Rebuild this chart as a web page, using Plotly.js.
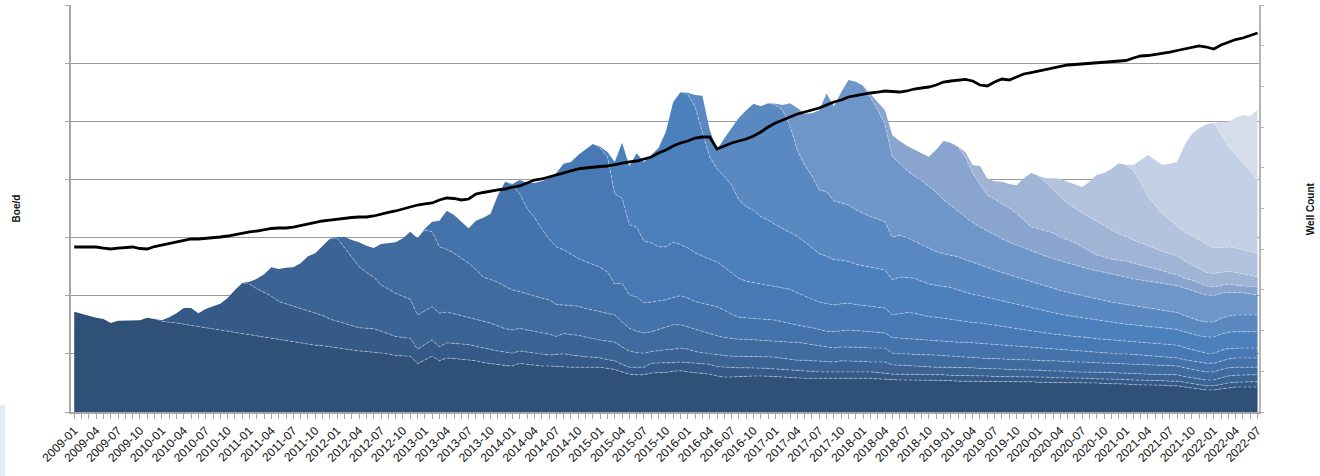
<!DOCTYPE html>
<html><head><meta charset="utf-8">
<script src="https://cdn.plot.ly/plotly-3.0.1.min.js"></script>
<style>html,body{margin:0;padding:0;background:#fff}#chart{width:1320px;height:476px}</style>
</head><body><div id="chart"></div>
<script>
const vintages = ['2009','2010','2011','2012','2013','2014','2015','2016','2017','2018','2019','2020','2021','2022'];
const vintageStart = [0,12,24,36,48,60,72,84,96,108,120,132,144,156];
const tickLabels = ['2009-01','2009-04','2009-07','2009-10','2010-01','2010-04','2010-07','2010-10','2011-01','2011-04','2011-07','2011-10','2012-01','2012-04','2012-07','2012-10','2013-01','2013-04','2013-07','2013-10','2014-01','2014-04','2014-07','2014-10','2015-01','2015-04','2015-07','2015-10','2016-01','2016-04','2016-07','2016-10','2017-01','2017-04','2017-07','2017-10','2018-01','2018-04','2018-07','2018-10','2019-01','2019-04','2019-07','2019-10','2020-01','2020-04','2020-07','2020-10','2021-01','2021-04','2021-07','2021-10','2022-01','2022-04','2022-07'];

// total production (Boe/d, thousands) 2009-01 .. 2022-07
const totalProduction = [
 17.25,16.9,16.5,16.2,16.0,15.3,15.7,15.7,15.7,15.8,16.2,16.0,
 15.8,16.3,17.0,17.9,17.9,17.0,17.7,18.2,18.6,19.6,21.0,22.2,
 22.4,22.9,23.7,24.9,24.6,24.8,24.9,25.6,26.8,27.3,28.6,29.8,
 30.1,30.1,29.6,29.2,28.6,28.2,28.9,29.1,29.2,29.9,31.0,29.9,
 31.5,32.7,32.9,34.6,33.9,32.7,31.6,32.9,33.4,34.1,37.3,39.6,
 39.2,39.9,39.4,39.4,39.7,40.2,41.1,42.7,43.0,44.2,45.1,46.1,
 45.6,44.7,43.0,46.3,42.3,44.5,43.0,44.2,45.4,48.2,53.3,55.0,
 54.9,54.5,54.4,48.5,45.1,47.1,48.8,50.6,51.9,53.0,52.6,53.1,
 53.0,52.8,53.1,52.3,51.3,51.4,51.9,54.8,52.6,55.0,57.1,56.8,
 56.1,54.7,53.3,51.9,47.6,46.6,45.8,45.1,44.5,43.9,45.1,46.6,
 46.3,45.6,44.7,42.5,42.3,40.2,39.7,39.6,39.2,39.0,40.2,41.1,
 40.6,40.2,40.2,40.1,39.6,39.2,38.7,39.6,40.8,41.1,41.8,42.8,
 42.5,42.5,43.3,44.2,43.3,42.5,42.7,43.0,45.9,47.8,48.8,49.5,
 49.7,49.9,49.9,50.6,51.1,50.9,51.9];

const wellCount = [
 4054,4054,4054,4054,4029,4005,4029,4042,4054,4017,4005,4066,
 4103,4152,4177,4226,4251,4251,4263,4275,4300,4324,4361,4398,
 4423,4447,4484,4509,4521,4521,4545,4582,4619,4668,4693,4717,
 4742,4767,4779,4791,4791,4816,4865,4902,4939,4988,5025,5086,
 5111,5135,5209,5258,5246,5209,5233,5356,5393,5430,5455,5479,
 5528,5553,5627,5700,5725,5774,5823,5872,5921,5971,5995,6020,
 6032,6044,6081,6118,6143,6167,6216,6265,6364,6437,6536,6609,
 6658,6732,6757,6757,6462,6536,6609,6658,6708,6781,6880,7002,
 7101,7174,7248,7322,7371,7420,7469,7543,7617,7666,7740,7776,
 7813,7838,7862,7887,7875,7862,7887,7936,7961,7985,8034,8108,
 8133,8157,8170,8133,8034,8010,8108,8182,8157,8231,8305,8341,
 8378,8428,8464,8501,8526,8538,8550,8575,8587,8600,8612,8624,
 8636,8698,8747,8759,8784,8808,8845,8882,8919,8956,8993,8968,
 8919,9017,9091,9152,9189,9251,9312];

// cumulative production through each vintage, from the month the next vintage starts
const cum2009 = [
 15.6,15.5,15.3,15.1,14.9,14.6,14.4,14.2,14.0,13.8,13.6,13.4,
 13.2,13.0,12.8,12.6,12.4,12.2,12.0,11.8,11.6,11.5,11.4,11.2,
 11.1,10.9,10.7,10.5,10.4,10.3,10.1,10.0,9.7,9.6,9.6,8.3,
 8.9,9.6,8.8,9.3,9.2,9.1,9.0,8.8,8.5,8.3,8.2,8.0,
 7.9,8.4,8.2,8.0,7.9,7.9,7.8,7.8,7.7,7.7,7.7,7.7,
 7.7,7.5,7.3,6.9,6.5,6.4,6.4,6.7,6.7,6.8,7.0,7.1,
 6.9,6.8,6.7,6.5,6.2,6.0,6.0,6.1,6.2,6.2,6.2,6.2,
 6.1,6.0,5.9,5.8,5.8,5.8,5.8,5.8,5.8,5.9,5.9,5.8,
 5.8,5.8,5.7,5.6,5.5,5.5,5.5,5.5,5.5,5.5,5.4,5.4,
 5.4,5.3,5.3,5.3,5.3,5.2,5.2,5.2,5.2,5.2,5.2,5.2,
 5.1,5.1,5.1,5.1,5.0,5.0,5.0,5.0,5.0,4.9,4.9,4.8,
 4.8,4.7,4.7,4.6,4.6,4.6,4.5,4.5,4.3,4.1,3.9,3.8,
 3.8,4.0,4.2,4.3,4.3,4.3,4.3];
const cum2010 = [
 22.0,21.2,20.6,19.9,19.0,18.6,18.1,17.8,17.4,16.9,16.6,16.0,
 15.6,15.2,14.8,14.5,14.4,14.3,13.9,13.5,13.0,12.8,12.7,10.8,
 11.6,12.4,11.2,11.9,11.8,11.7,11.6,11.3,11.0,10.7,10.5,10.3,
 10.1,10.5,10.3,10.1,10.0,9.8,9.9,10.0,9.8,9.6,9.5,9.4,
 9.3,9.0,8.8,8.2,7.7,7.7,7.7,8.4,8.4,8.4,8.5,8.6,
 8.5,8.4,8.4,8.2,7.8,7.7,7.7,7.6,7.6,7.6,7.5,7.5,
 7.4,7.3,7.3,7.2,7.1,7.0,6.9,6.9,6.9,7.0,7.0,6.9,
 6.9,6.9,6.8,6.6,6.5,6.5,6.5,6.5,6.4,6.4,6.4,6.4,
 6.3,6.3,6.3,6.2,6.2,6.2,6.1,6.1,6.1,6.1,6.0,6.0,
 6.0,6.0,5.9,5.9,5.9,5.8,5.8,5.8,5.7,5.7,5.7,5.6,
 5.6,5.5,5.5,5.4,5.4,5.4,5.3,5.3,5.1,4.9,4.7,4.5,
 4.5,4.8,5.0,5.1,5.2,5.2,5.2];
const cum2011 = [
 29.9,28.3,26.6,25.0,24.0,23.2,21.9,21.2,20.4,19.9,19.4,16.7,
 17.4,18.1,17.0,17.2,16.9,16.6,16.3,16.0,15.6,15.3,14.8,14.3,
 14.1,14.4,14.1,13.9,13.7,13.4,13.0,13.5,13.3,13.2,12.9,12.6,
 12.4,12.2,12.0,11.2,10.5,10.2,10.1,10.4,10.6,10.7,10.8,11.0,
 10.8,10.4,10.2,10.0,9.8,9.7,9.6,9.6,9.6,9.5,9.5,9.5,
 9.4,9.2,9.0,8.9,8.9,8.8,8.7,8.6,8.6,8.8,8.8,8.7,
 8.7,8.6,8.6,8.6,8.1,8.1,8.0,7.9,7.8,7.7,7.7,7.7,
 7.7,7.6,7.6,7.6,7.5,7.5,7.4,7.4,7.3,7.3,7.2,7.2,
 7.2,7.1,7.1,7.0,7.0,6.9,6.9,6.9,6.8,6.8,6.8,6.7,
 6.7,6.6,6.6,6.5,6.5,6.5,6.4,6.4,6.1,5.9,5.7,5.5,
 5.5,5.9,6.2,6.3,6.4,6.4,6.4];
const cum2012 = [
 31.3,31.0,28.4,28.0,27.3,26.4,25.6,24.5,23.2,22.8,22.3,21.6,
 21.0,20.7,20.3,19.9,19.6,19.3,18.5,18.4,18.3,18.2,17.8,17.5,
 17.2,16.9,16.7,15.5,14.4,13.9,13.6,13.8,14.2,14.6,15.0,15.0,
 14.6,14.2,13.8,13.5,13.1,12.8,12.6,12.5,12.5,12.4,12.3,12.3,
 12.2,12.1,12.0,12.0,11.8,11.6,11.4,11.2,11.0,11.2,11.2,11.1,
 11.1,11.0,11.0,11.0,10.1,10.1,10.0,9.9,9.9,9.8,9.8,9.7,
 9.6,9.5,9.4,9.3,9.3,9.2,9.2,9.1,9.1,9.0,9.0,8.9,
 8.9,8.8,8.8,8.7,8.7,8.6,8.6,8.5,8.5,8.4,8.4,8.3,
 8.3,8.2,8.2,8.1,8.1,8.0,8.0,7.9,7.6,7.3,7.1,6.9,
 6.9,7.3,7.6,7.7,7.7,7.7,7.7];
const cum2013 = [
 39.0,37.5,35.0,33.5,31.5,29.8,28.4,27.9,27.2,26.4,25.9,25.4,
 24.9,24.1,22.0,22.2,20.1,19.8,18.8,18.9,19.1,19.3,19.7,20.0,
 19.6,19.0,18.7,18.4,18.1,17.5,16.8,16.3,16.2,16.1,16.0,16.0,
 15.8,15.5,15.2,15.0,14.7,14.5,14.2,13.9,13.8,14.0,14.1,14.0,
 13.9,13.8,13.7,13.6,12.8,12.7,12.7,12.6,12.5,12.4,12.3,12.2,
 12.1,12.0,12.0,11.9,11.9,11.7,11.6,11.5,11.4,11.3,11.2,11.1,
 11.0,10.9,10.8,10.7,10.6,10.5,10.4,10.4,10.3,10.2,10.1,10.0,
 10.0,9.9,9.8,9.7,9.6,9.5,9.4,9.3,9.0,8.8,8.6,8.4,
 8.4,8.8,9.1,9.3,9.3,9.3,9.3];
const cum2014 = [
 45.4,43.9,37.5,36.8,32.2,31.8,29.4,29.1,28.4,28.4,29.2,28.8,
 28.2,27.4,26.8,26.3,25.8,24.9,23.9,23.0,22.5,22.2,22.0,21.8,
 21.6,21.4,21.1,20.5,19.9,19.4,18.9,18.6,18.4,18.6,18.7,18.5,
 18.3,18.2,18.0,17.9,16.7,16.9,17.1,17.0,16.7,16.4,16.3,16.1,
 16.0,15.8,15.6,15.4,15.3,15.1,14.9,14.7,14.5,14.3,14.1,13.9,
 13.7,13.6,13.4,13.3,13.1,13.0,12.9,12.7,12.6,12.5,12.4,12.3,
 12.2,12.1,12.0,11.9,11.8,11.7,11.6,11.5,11.1,10.8,10.5,10.1,
 10.1,10.6,10.9,11.0,11.0,11.0,11.0];
const cum2015 = [
 54.6,52.5,48.0,43.9,41.8,40.5,39.0,36.5,35.3,34.7,33.6,33.0,
 32.2,31.5,30.9,30.2,29.3,28.2,27.2,26.8,26.2,26.1,25.9,25.4,
 25.2,25.0,24.7,24.4,22.7,23.2,23.1,23.0,22.5,22.0,21.8,21.6,
 21.4,21.0,20.6,20.2,20.0,19.7,19.4,19.1,18.8,18.5,18.2,17.9,
 17.6,17.3,17.1,16.8,16.6,16.4,16.2,16.0,15.8,15.6,15.4,15.3,
 15.1,15.0,14.8,14.7,14.6,14.5,14.3,14.2,13.8,13.4,13.1,12.9,
 12.9,13.4,13.7,13.8,13.8,13.8,13.8];
const cum2016 = [
 52.8,51.9,49.2,45.0,42.5,40.6,38.2,37.9,36.3,36.0,35.6,34.8,
 34.2,33.6,33.2,32.7,30.1,30.4,30.0,29.4,28.8,28.2,27.6,27.2,
 26.9,26.7,26.2,25.8,25.4,24.9,24.4,24.0,23.6,23.2,22.8,22.4,
 22.0,21.6,21.2,20.9,20.6,20.3,20.0,19.7,19.4,19.2,18.9,18.7,
 18.5,18.3,18.1,17.9,17.7,17.5,17.3,17.1,16.6,16.1,15.7,15.5,
 15.5,16.1,16.5,16.7,16.7,16.7,16.7];
const cum2017 = [
 56.1,54.0,52.0,49.5,43.9,42.8,41.6,40.6,39.8,38.8,37.8,36.5,
 35.5,34.6,33.5,32.6,31.8,31.1,30.4,29.8,29.2,28.7,28.2,27.7,
 27.2,26.8,26.4,26.0,25.6,25.2,24.9,24.6,24.3,24.0,23.7,23.4,
 23.2,22.9,22.7,22.5,22.3,22.1,21.9,21.7,21.3,20.9,20.5,20.1,
 20.0,20.4,20.6,20.6,20.5,20.3,20.1];
const cum2018 = [
 46.3,45.6,43.9,41.1,39.2,37.3,36.6,35.9,35.1,34.2,33.0,31.8,
 31.5,31.1,30.8,30.1,29.6,29.1,28.4,27.7,27.0,26.7,26.3,26.1,
 26.0,25.6,25.3,24.9,24.6,24.3,23.9,23.6,23.0,22.7,22.2,21.7,
 21.5,21.8,22.0,21.8,21.7,21.5,21.5];
const cum2019 = [
 40.6,39.5,38.2,37.0,35.9,35.0,34.2,33.5,32.8,32.0,31.3,30.6,
 30.1,29.6,29.0,28.5,28.0,27.6,27.2,26.8,26.0,25.3,24.6,24.0,
 23.8,24.0,24.2,24.0,23.8,23.5,23.2];
const cum2020 = [
 42.5,41.5,39.5,37.0,35.5,34.0,33.0,32.0,31.0,30.3,29.6,28.8,
 28.2,28.3,28.4,28.2,27.9,27.6,27.3];
const cum2021 = [49.7,47.8,45.6,44.3,42.8,41.4,39.9];

const vintageColors = ['#2f5077','#365a87','#3b6393','#3f6b9f','#4472aa','#4879b4','#4c80bd',
  '#5a89c2','#6f96c9','#89a5cf','#a0b4d6','#b3c3de','#c4d0e5','#d5dcea'];

const cumulative = [cum2009,cum2010,cum2011,cum2012,cum2013,cum2014,cum2015,cum2016,cum2017,cum2018,cum2019,cum2020,cum2021];
const n = totalProduction.length;
const xIdx = Array.from({length:n},(_,i)=>i);

const tops = vintages.map((v,k)=>{
  if (k === vintages.length-1) return totalProduction.slice();
  const s = vintageStart[k+1], b = cumulative[k];
  return totalProduction.map((t,i)=> i < s ? t : b[i-s]);
});

const traces = [];
vintages.forEach((v,k)=>{
  traces.push({
    type:'scatter', mode:'lines', name:v, x:xIdx, y:tops[k],
    fill: k===0 ? 'tozeroy' : 'tonexty', fillcolor: vintageColors[k],
    line:{width:0, color:vintageColors[k]}, hoverinfo:'skip', showlegend:false
  });
});
cumulative.forEach((b,k)=>{
  const s = vintageStart[k+1];
  traces.push({
    type:'scatter', mode:'lines', x:b.map((_,j)=>s+j), y:b,
    line:{width:1, color:'rgba(225,233,246,0.5)', dash:'3px,2px'},
    hoverinfo:'skip', showlegend:false
  });
});
traces.push({
  type:'scatter', mode:'lines', name:'Well Count', x:xIdx, y:wellCount, yaxis:'y2',
  line:{width:2.8, color:'#000000'}, hoverinfo:'skip', showlegend:false
});

const tickVals = tickLabels.map((_,j)=>j*3);

const layout = {
  width:1320, height:476,
  margin:{l:71, r:61, t:5, b:64, pad:0},
  paper_bgcolor:'#ffffff', plot_bgcolor:'#ffffff',
  font:{family:'Liberation Sans, Arial, sans-serif', size:12, color:'#111'},
  showlegend:false,
  xaxis:{
    range:[-0.44,162.2], tickmode:'array', tickvals:tickVals, ticktext:tickLabels,
    tickangle:-45, tickfont:{size:12, color:'#111'},
    showgrid:false, zeroline:false,
    showline:true, linecolor:'#a6a6a6', linewidth:2,
    ticks:'outside', ticklen:5, tickcolor:'#a6a6a6', tickwidth:1,
    minor:{dtick:1, tick0:0, ticks:'outside', ticklen:5, tickcolor:'#a6a6a6', tickwidth:1, showgrid:false}
  },
  yaxis:{
    range:[0,70], dtick:10, tick0:0, showticklabels:false,
    showgrid:true, gridcolor:'#9a9a9a', gridwidth:1, zeroline:false,
    showline:true, linecolor:'#a6a6a6', linewidth:2,
    ticks:'outside', ticklen:4, tickcolor:'#a6a6a6'
  },
  yaxis2:{
    overlaying:'y', side:'right', range:[0,10000], dtick:1000, tick0:0,
    showticklabels:false, showgrid:false, zeroline:false,
    showline:true, linecolor:'#b5b5b5', linewidth:2,
    ticks:'outside', ticklen:3, tickcolor:'#b5b5b5'
  },
  annotations:[
    {text:'<b>Boe/d</b>', xref:'paper', yref:'paper', x:-0.0455, y:0.5, xanchor:'center', yanchor:'middle',
     textangle:-90, showarrow:false, font:{size:10, color:'#111'}},
    {text:'<b>Well Count</b>', xref:'paper', yref:'paper', x:1.0435, y:0.5, xanchor:'center', yanchor:'middle',
     textangle:-90, showarrow:false, font:{size:10, color:'#111'}}
  ],
  shapes:[
    {type:'rect', xref:'paper', yref:'paper', x0:-0.0598, x1:-0.0555, y0:-0.157, y1:0.017,
     fillcolor:'#e3edf1', line:{width:0}, layer:'below'}
  ]
};

Plotly.newPlot('chart', traces, layout, {staticPlot:true, displayModeBar:false});
</script>
</body></html>
